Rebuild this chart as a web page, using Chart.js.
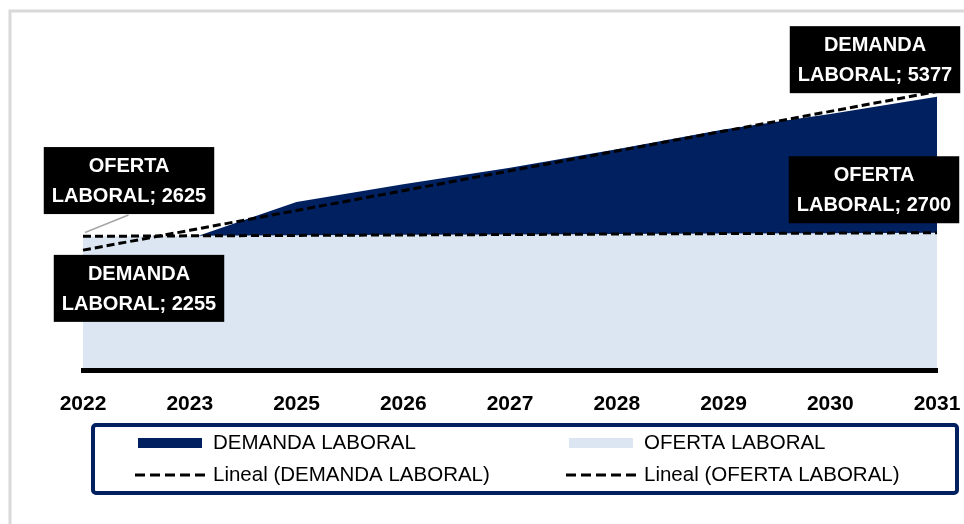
<!DOCTYPE html>
<html>
<head>
<meta charset="utf-8">
<script src="https://cdn.jsdelivr.net/npm/chart.js@4.4.0/dist/chart.umd.min.js"></script>
<style>
  html, body { margin: 0; padding: 0; background: #fff; }
  #wrap { position: relative; width: 964px; height: 524px; }
</style>
</head>
<body>
<div id="wrap"><canvas id="mercado" width="964" height="524"></canvas></div>
<script>
var anios = ['2022', '2023', '2025', '2026', '2027', '2028', '2029', '2030', '2031'];
var demanda = [2255, 2580, 3304, 3654, 3980, 4344, 4729, 5037, 5377];
var oferta = [2625, 2640, 2650, 2660, 2665, 2675, 2685, 2690, 2700];

var AZUL = '#002060';
var CELESTE = '#dce6f2';
var FUENTE = '"Liberation Sans", Arial, sans-serif';

// linea de tendencia por minimos cuadrados sobre el indice de la categoria
function tendencia(vals) {
    var n = vals.length, sx = 0, sy = 0, sxy = 0, sxx = 0;
    vals.forEach(function (v, i) {
        sx += i; sy += v; sxy += i * v; sxx += i * i;
    });
    var m = (n * sxy - sx * sy) / (n * sxx - sx * sx);
    var b = (sy - m * sx) / n;
    return vals.map(function (v, i) { return b + m * i; });
}

// marco gris del grafico
var marco = {
    id: 'marco',
    beforeDraw: function (chart) {
        var ctx = chart.ctx;
        ctx.save();
        ctx.strokeStyle = '#d9d9d9';
        ctx.lineWidth = 3;
        ctx.beginPath();
        ctx.moveTo(10, 530);
        ctx.lineTo(10, 11);
        ctx.lineTo(970, 11);
        ctx.stroke();
        ctx.restore();
    }
};

// etiquetas negras con nombre de serie y valor
var etiquetas = {
    id: 'etiquetas',
    afterDatasetsDraw: function (chart) {
        var ctx = chart.ctx;
        var ult = anios.length - 1;
        var lista = [
            { ds: 1, idx: 0, dx: 46, dy: -56, guia: true },
            { ds: 0, idx: 0, dx: 56, dy: 33 },
            { ds: 0, idx: ult, dx: -62, dy: -37 },
            { ds: 1, idx: ult, dx: -63, dy: -43 }
        ];
        ctx.save();
        ctx.font = 'bold 20px ' + FUENTE;
        ctx.textAlign = 'center';
        ctx.textBaseline = 'middle';
        lista.forEach(function (e) {
            var dataset = chart.data.datasets[e.ds];
            var pt = chart.getDatasetMeta(e.ds).data[e.idx];
            var partes = dataset.label.split(' ');
            var l1 = partes[0];
            var l2 = partes[1] + '; ' + dataset.data[e.idx];
            var w = Math.max(ctx.measureText(l1).width, ctx.measureText(l2).width) + 16;
            var h = 67;
            var cx = pt.x + e.dx, cy = pt.y + e.dy;
            if (e.guia) {
                ctx.strokeStyle = '#a6a6a6';
                ctx.lineWidth = 1.5;
                ctx.beginPath();
                ctx.moveTo(pt.x + 2, pt.y - 4);
                ctx.lineTo(cx - 0.5, cy + h / 2 + 1);
                ctx.stroke();
            }
            ctx.fillStyle = '#000';
            ctx.fillRect(cx - w / 2, cy - h / 2, w, h);
            ctx.fillStyle = '#fff';
            ctx.fillText(l1, cx, cy - 14);
            ctx.fillText(l2, cx, cy + 16);
        });
        ctx.restore();
    }
};

// leyenda en dos columnas dentro de un recuadro azul
var leyenda = {
    id: 'leyenda',
    afterDraw: function (chart) {
        var ctx = chart.ctx;
        var ds = chart.data.datasets;
        ctx.save();
        ctx.strokeStyle = AZUL;
        ctx.lineWidth = 4;
        ctx.beginPath();
        ctx.roundRect(93, 425, 864, 68, 3);
        ctx.stroke();

        var cols = [138, 569];
        var filas = [443, 475];
        ctx.font = '20.5px ' + FUENTE;
        ctx.textBaseline = 'middle';
        ctx.textAlign = 'left';
        [[0, 0, 0], [1, 1, 0], [2, 0, 1], [3, 1, 1]].forEach(function (p) {
            var d = ds[p[0]];
            var x = cols[p[1]], y = filas[p[2]];
            if (d.fill) {
                ctx.fillStyle = d.backgroundColor;
                ctx.fillRect(x, y - 5, 64, 10);
            } else {
                ctx.strokeStyle = d.borderColor;
                ctx.lineWidth = 3;
                ctx.setLineDash([10, 5]);
                ctx.beginPath();
                ctx.moveTo(x - 3, y);
                ctx.lineTo(x + 67, y);
                ctx.stroke();
                ctx.setLineDash([]);
            }
            ctx.fillStyle = '#000';
            ctx.fillText(d.label, x + 75, y);
        });
        ctx.restore();
    }
};

var ctx = document.getElementById('mercado').getContext('2d');

var grafico = new Chart(ctx, {
    type: 'line',
    data: {
        labels: anios,
        datasets: [{
            label: 'DEMANDA LABORAL',
            data: demanda,
            backgroundColor: AZUL,
            borderColor: 'rgba(0,0,0,0)',
            borderWidth: 1,
            fill: 'origin',
            pointRadius: 0,
            order: 3
        }, {
            label: 'OFERTA LABORAL',
            data: oferta,
            backgroundColor: CELESTE,
            borderColor: 'rgba(0,0,0,0)',
            borderWidth: 1,
            fill: 'origin',
            pointRadius: 0,
            order: 2
        }, {
            label: 'Lineal (DEMANDA LABORAL)',
            data: tendencia(demanda),
            borderColor: '#000',
            borderWidth: 3,
            borderDash: [8, 4],
            fill: false,
            pointRadius: 0,
            order: 1
        }, {
            label: 'Lineal (OFERTA LABORAL)',
            data: tendencia(oferta),
            borderColor: '#000',
            borderWidth: 3,
            borderDash: [8, 4],
            fill: false,
            pointRadius: 0,
            order: 1
        }]
    },
    options: {
        responsive: false,
        animation: false,
        layout: { padding: { top: 65, left: 83, right: 27, bottom: 0 } },
        plugins: {
            legend: { display: false },
            tooltip: { enabled: false }
        },
        scales: {
            x: {
                grid: { display: false, drawTicks: false },
                border: { display: true, color: '#000', width: 5, z: 1 },
                ticks: {
                    color: '#000',
                    font: { family: FUENTE, size: 21, weight: 'bold' },
                    padding: 22,
                    maxRotation: 0,
                    autoSkip: false
                },
                afterFit: function (s) {
                    s.height = 154;
                    // el 2031 puede salirse del area, no reservar espacio extra
                    s.paddingRight = 0;
                }
            },
            y: {
                display: false,
                min: 0,
                max: 6000
            }
        }
    },
    plugins: [marco, etiquetas, leyenda]
});
</script>
</body>
</html>
